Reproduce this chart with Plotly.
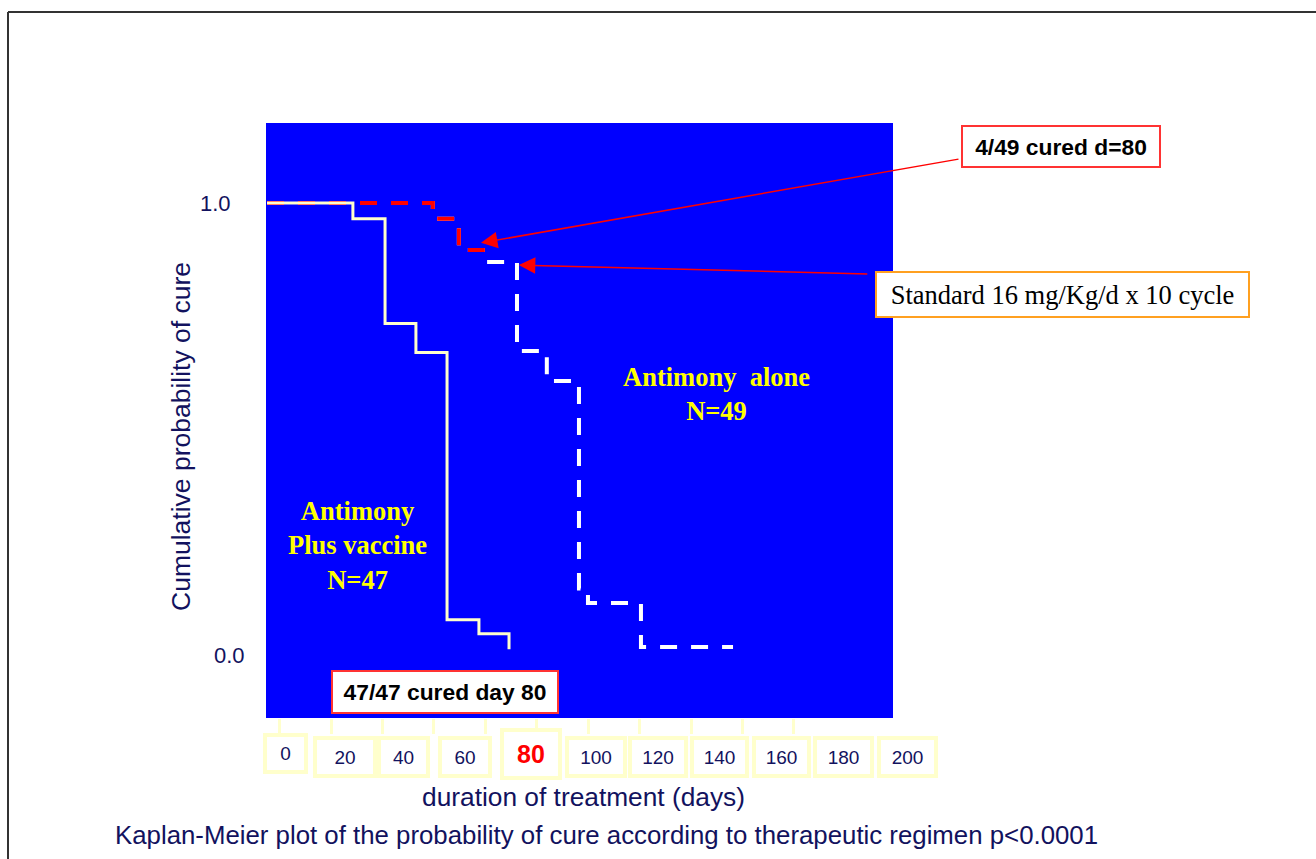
import plotly.graph_objects as go

# ---------------- data ----------------
# Antimony plus vaccine (solid pale-yellow step curve)
vaccine_days = [-4.9, 28.5, 41.0, 53.0, 65.1, 77.5, 89.2]
vaccine_prob = [1.0, 0.965, 0.734, 0.670, 0.080, 0.049, 0.015]

# Antimony alone (dashed step curve; first part drawn in red)
alone_days = [-4.9, 59.6, 69.7, 80.2, 92.3, 103.9, 116.4, 119.9, 140.5, 176.3]
alone_prob = [1.0, 0.965, 0.896, 0.870, 0.673, 0.607, 0.149, 0.117, 0.020, 0.020]
red_until = 3  # red part runs up to the step at day ~80

x_tick_vals = [0, 20, 40, 60, 80, 100, 120, 140, 160, 180, 200]
x_tick_labels = ["0", "20", "40", "60", "80", "100", "120", "140", "160", "180", "200"]
y_tick_vals = [1.0, 0.0]
y_tick_labels = ["1.0", "0.0"]

# arrow targets (data coordinates)
arrow1_target = (78.3, 0.912)
arrow2_target = (93.0, 0.863)

# ---------------- layout helpers ----------------
W, H = 1316, 859
L, R, T, B = 266, 893, 123, 718  # plot area in pixels
NAVY = "#12125e"
SANS = "Liberation Sans, Arial, Helvetica, sans-serif"
SERIF = "Liberation Serif, Times New Roman, serif"


def px(xp):
    return (xp - L) / (R - L)


def py(yp):
    return (B - yp) / (B - T)


fig = go.Figure()

fig.add_trace(go.Scatter(
    x=alone_days, y=alone_prob, mode="lines", line_shape="hv",
    line=dict(color="#FFFFFF", width=4, dash="17px,14px"),
    hoverinfo="skip", showlegend=False))

red_x = alone_days[:red_until + 1]
red_y = alone_prob[:red_until] + [alone_prob[red_until - 1]]
fig.add_trace(go.Scatter(
    x=red_x, y=red_y, mode="lines", line_shape="hv",
    line=dict(color="#FF0000", width=4, dash="17px,14px"),
    hoverinfo="skip", showlegend=False))

fig.add_trace(go.Scatter(
    x=vaccine_days, y=vaccine_prob, mode="lines", line_shape="hv",
    line=dict(color="#FFFFCC", width=3),
    hoverinfo="skip", showlegend=False))

annotations = []

# x tick label boxes
box_cx = [285.5, 345, 403.5, 465, 531, 596, 658, 719.5, 781.5, 843.5, 907.5]
box_cy = [753.5, 757, 757, 757, 754, 757, 757, 757, 757, 757, 757]
box_w = [45, 64, 53, 54, 62, 62, 60, 59, 59, 61, 61]
box_h = [41, 42, 42, 42, 52, 42, 42, 42, 42, 42, 42]
for i, lab in enumerate(x_tick_labels):
    big = lab == "80"
    annotations.append(dict(
        text=("<b>%s</b>" % lab) if big else lab,
        xref="paper", yref="paper", x=px(box_cx[i]), y=py(box_cy[i]),
        xanchor="center", yanchor="middle", showarrow=False,
        font=dict(family=SANS, size=25 if big else 19,
                  color="#FF0000" if big else NAVY),
        bgcolor="#FFFFFF", bordercolor="#FFFFCC", borderwidth=4, borderpad=0,
        width=box_w[i] - 8, height=box_h[i] - 8))

# y tick labels
y_lab_right = [233, 247]
for v, lab, xr in zip(y_tick_vals, y_tick_labels, y_lab_right):
    annotations.append(dict(
        text=lab, xref="paper", yref="y", x=px(xr), y=v,
        xanchor="right", yanchor="middle", showarrow=False,
        font=dict(family=SANS, size=22, color=NAVY)))

# axis titles & caption
annotations.append(dict(
    text="Cumulative probability of cure", xref="paper", yref="paper",
    x=px(181), y=py(437), textangle=-90, showarrow=False,
    xanchor="center", yanchor="middle",
    font=dict(family=SANS, size=26.5, color=NAVY)))
annotations.append(dict(
    text="duration of treatment (days)", xref="paper", yref="paper",
    x=px(583.5), y=py(797), showarrow=False, xanchor="center", yanchor="middle",
    font=dict(family=SANS, size=26.3, color=NAVY)))
annotations.append(dict(
    text="Kaplan-Meier plot of the probability of cure according to therapeutic regimen p<0.0001",
    xref="paper", yref="paper", x=px(606.5), y=py(835), showarrow=False,
    xanchor="center", yanchor="middle",
    font=dict(family=SANS, size=25.8, color=NAVY)))

# group labels
annotations.append(dict(
    text="<b>Antimony  alone<br>N=49</b>", xref="x", yref="y", x=169.7, y=0.578,
    showarrow=False, xanchor="center", yanchor="middle",
    font=dict(family=SERIF, size=26.5, color="#FFFF00")))
annotations.append(dict(
    text="<b>Antimony<br>Plus vaccine<br>N=47</b>", xref="x", yref="y", x=30.2, y=0.245,
    showarrow=False, xanchor="center", yanchor="middle",
    font=dict(family=SERIF, size=26.5, color="#FFFF00")))

# arrows
annotations.append(dict(
    text="", x=arrow1_target[0], y=arrow1_target[1], xref="x", yref="y",
    showarrow=True, ax=479, ay=-84, arrowhead=2, arrowsize=2.2,
    arrowwidth=1.5, arrowcolor="#FF0000", standoff=0))
annotations.append(dict(
    text="", x=arrow2_target[0], y=arrow2_target[1], xref="x", yref="y",
    showarrow=True, ax=350, ay=9, arrowhead=2, arrowsize=2.2,
    arrowwidth=1.5, arrowcolor="#FF0000", standoff=0))

# text boxes
annotations.append(dict(
    text="<b>4/49 cured d=80</b>", xref="paper", yref="paper",
    x=px(1061), y=py(146.5), showarrow=False, xanchor="center", yanchor="middle",
    font=dict(family=SANS, size=22.8, color="#000000"),
    bgcolor="#FFFFFF", bordercolor="#FF3333", borderwidth=2, borderpad=0,
    width=196, height=39))
annotations.append(dict(
    text="Standard 16 mg/Kg/d x 10 cycle", xref="paper", yref="paper",
    x=px(1062.5), y=py(294.5), showarrow=False, xanchor="center", yanchor="middle",
    font=dict(family=SERIF, size=26.5, color="#000000"),
    bgcolor="#FFFFFF", bordercolor="#FFA020", borderwidth=2, borderpad=0,
    width=371, height=43))
annotations.append(dict(
    text="<b>47/47 cured day 80</b>", xref="paper", yref="paper",
    x=px(445), y=py(692), showarrow=False, xanchor="center", yanchor="middle",
    font=dict(family=SANS, size=22.8, color="#000000"),
    bgcolor="#FFFFFF", bordercolor="#FF3333", borderwidth=2, borderpad=0,
    width=224, height=40))

shapes = [
    dict(type="line", xref="paper", yref="paper", x0=px(8), x1=px(W), y0=py(12), y1=py(12),
         line=dict(color="#333333", width=2)),
    dict(type="line", xref="paper", yref="paper", x0=px(8), x1=px(8), y0=py(12), y1=py(H),
         line=dict(color="#333333", width=2)),
]

fig.update_layout(
    width=W, height=H, autosize=False,
    margin=dict(l=L, r=W - R, t=T, b=H - B, pad=0),
    paper_bgcolor="#FFFFFF", plot_bgcolor="#0000FF",
    showlegend=False,
    xaxis=dict(range=[-5.29, 238.5], showgrid=False, zeroline=False,
               tickmode="array", tickvals=x_tick_vals, showticklabels=False,
               ticks="outside", ticklen=15, tickwidth=3, tickcolor="#FFFFCC",
               showline=False, fixedrange=True),
    yaxis=dict(range=[-0.1369, 1.1766], showgrid=False, zeroline=False,
               tickmode="array", tickvals=y_tick_vals, showticklabels=False,
               ticks="", showline=False, fixedrange=True),
    annotations=annotations,
    shapes=shapes,
)

fig.write_html(
    "out.html",
    config={"displayModeBar": False},
    post_script="document.body.style.margin='0';document.body.style.padding='0';"
                "document.documentElement.style.overflow='hidden';",
)
